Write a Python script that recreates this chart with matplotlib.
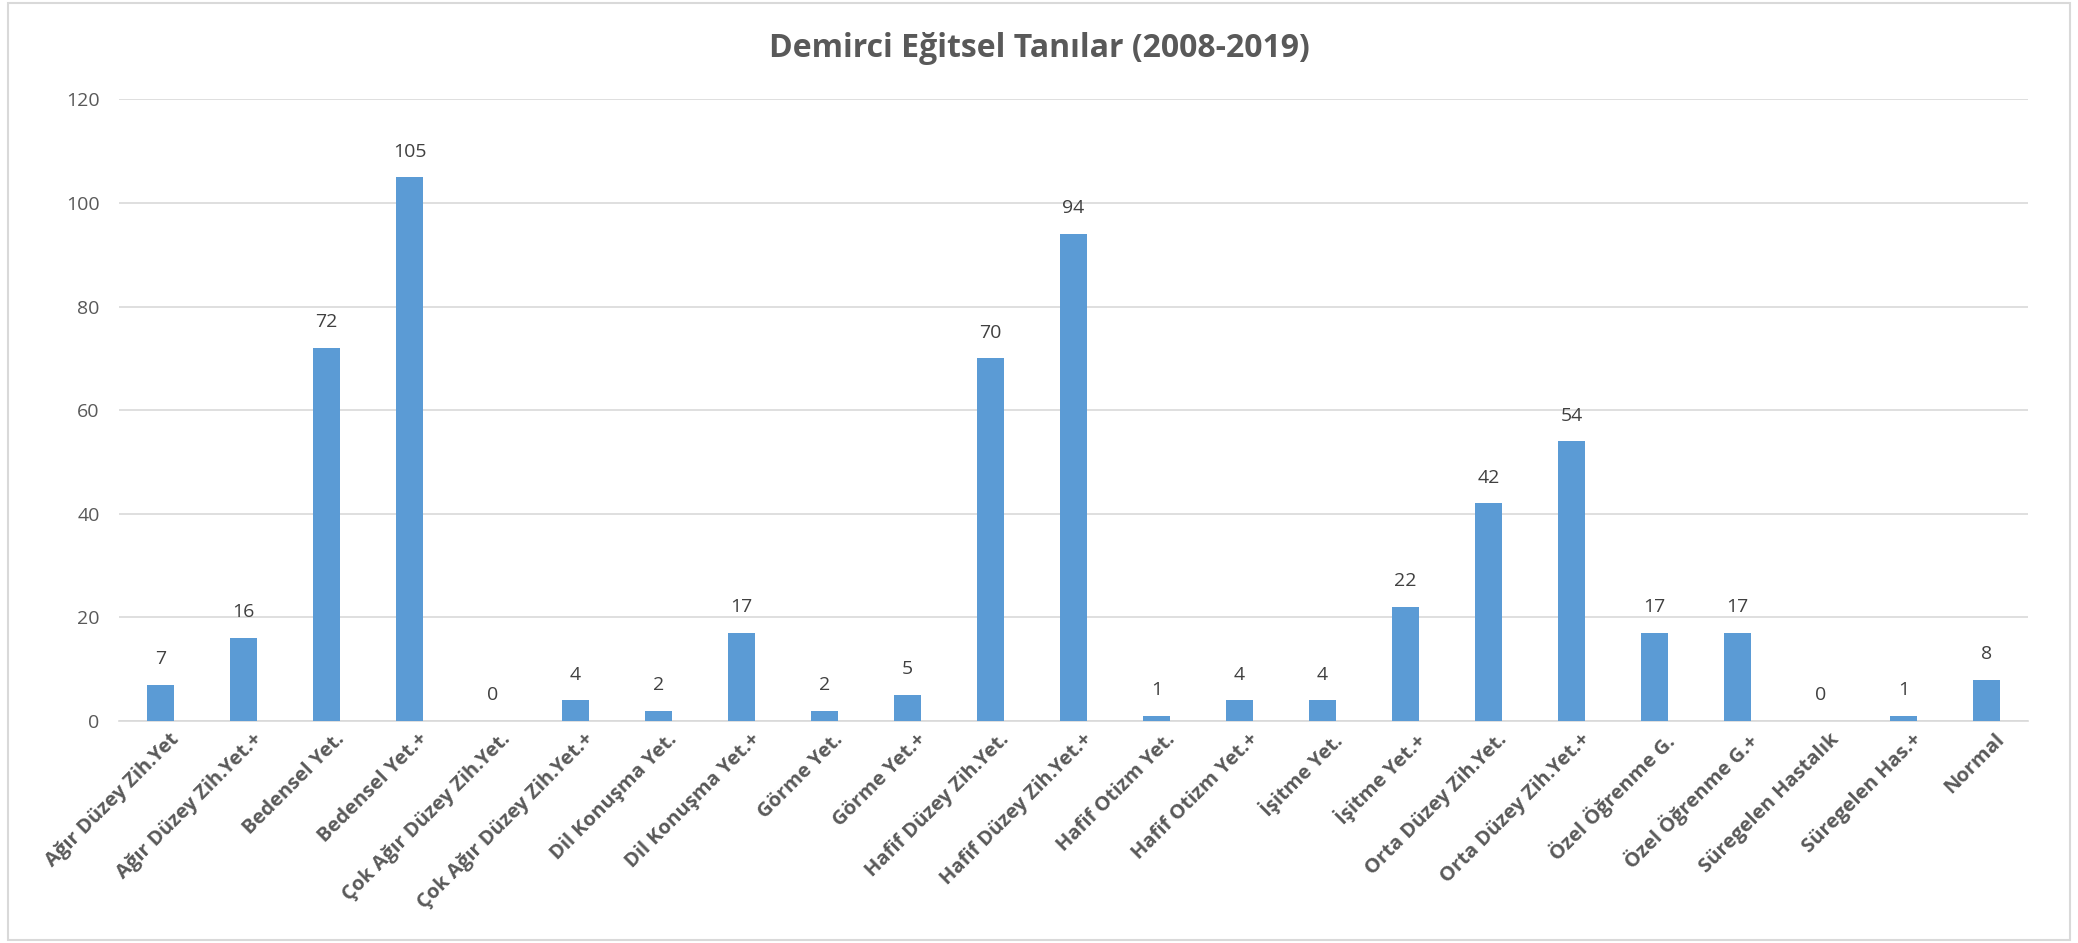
import matplotlib
matplotlib.use("Agg")
import matplotlib.pyplot as plt
import matplotlib.transforms as mtransforms
from matplotlib.patches import Rectangle

categories = [
    "Ağır Düzey Zih.Yet", "Ağır Düzey Zih.Yet.+", "Bedensel Yet.", "Bedensel Yet.+",
    "Çok Ağır Düzey Zih.Yet.", "Çok Ağır Düzey Zih.Yet.+", "Dil Konuşma Yet.",
    "Dil Konuşma Yet.+", "Görme Yet.", "Görme Yet.+", "Hafif Düzey Zih.Yet.",
    "Hafif Düzey Zih.Yet.+", "Hafif Otizm Yet.", "Hafif Otizm Yet.+", "İşitme Yet.",
    "İşitme Yet.+", "Orta Düzey Zih.Yet.", "Orta Düzey Zih.Yet.+", "Özel Öğrenme G.",
    "Özel Öğrenme G.+", "Süregelen Hastalık", "Süregelen Has.+", "Normal",
]
counts = [7, 16, 72, 105, 0, 4, 2, 17, 2, 5, 70, 94, 1, 4, 4, 22, 42, 54, 17, 17, 0, 1, 8]
y_ticks = [0, 20, 40, 60, 80, 100, 120]
title = "Demirci Eğitsel Tanılar (2008-2019)"

plt.rcParams["font.family"] = ["Open Sans", "DejaVu Sans"]

fig = plt.figure(figsize=(20.78, 9.43), dpi=100)
ax = fig.add_axes([0.0573, 0.2354, 0.9187, 0.6591])

x = list(range(len(categories)))
ax.bar(x, counts, width=0.32, color="#5B9BD5", zorder=3)

for xi, v in zip(x, counts):
    ax.annotate(str(v), (xi, v), xytext=(0, 12), textcoords="offset points",
                ha="center", va="bottom", fontsize=14, color="#404040")

ax.set_xlim(-0.5, len(categories) - 0.5)
ax.set_ylim(0, 120)
ax.set_yticks(y_ticks)
ax.set_yticklabels([str(t) for t in y_ticks], fontsize=14, color="#595959")
ax.tick_params(axis="y", length=0, pad=14)
ax.tick_params(axis="x", length=0, pad=6)
ax.set_xticks(x)
ax.set_xticklabels(categories, rotation=45, ha="right", rotation_mode="anchor",
                   fontsize=14.5, fontweight="bold", color="#595959")

# nudge the slanted category labels a little to the right of each tick
shift = mtransforms.ScaledTranslation(6 / 72, 0, fig.dpi_scale_trans)
for lbl in ax.get_xticklabels():
    lbl.set_transform(lbl.get_transform() + shift)

ax.grid(axis="y", color="#D9D9D9", linewidth=1.2, zorder=0)
for side in ["top", "right", "left"]:
    ax.spines[side].set_visible(False)
ax.spines["bottom"].set_color("#D9D9D9")
ax.spines["bottom"].set_linewidth(1.2)

fig.text(0.5, 0.949, title, ha="center", va="center", fontsize=23,
         fontweight="bold", color="#595959")

fig.patches.append(Rectangle((0.004, 0.003), 0.992, 0.994, transform=fig.transFigure,
                             fill=False, edgecolor="#D9D9D9", linewidth=1.5))

fig.savefig("out.png", dpi=100)
